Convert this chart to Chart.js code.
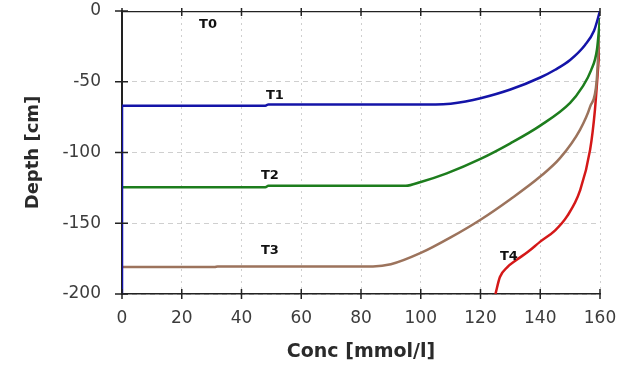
<!DOCTYPE html>
<html>
<head>
<meta charset="utf-8">
<script src="https://cdn.jsdelivr.net/npm/chart.js@4.4.1/dist/chart.umd.min.js"></script>
<style>
  html, body { margin: 0; padding: 0; background: #fff; }
  #wrap { width: 629px; height: 365px; overflow: hidden; }
</style>
</head>
<body>
<div id="wrap"><canvas id="chart" width="629" height="365"></canvas></div>
<script>
'use strict';

// ── data ─────────────────────────────────────
const xTicks = [0, 20, 40, 60, 80, 100, 120, 140, 160];
const yTicks = [0, -50, -100, -150, -200];

const t0Conc  = [0, 160];
const t0Depth = [0, 0];

const t1Conc  = [0, 0, 48, 49, 105, 110, 115, 120, 130, 140, 145, 150, 155, 158, 160];
const t1Depth = [-200, -67, -67, -66, -66, -65.5, -64, -61.7, -55.5, -47, -41.5, -34.6, -24, -14, 0];

const t2Conc  = [0, 48, 49, 95, 100, 108.7, 120, 130, 140, 150, 154, 157, 159, 160];
const t2Depth = [-124.5, -124.5, -123.5, -123.5, -120.8, -114.7, -104.5, -93.5, -81, -65, -54, -42, -27, -5];

const t3Conc  = [0, 31, 32, 84, 90, 100, 110, 120, 130, 140, 146.6, 153.3, 156.7, 158.9, 160];
const t3Depth = [-181, -181, -180.5, -180.5, -179, -171, -160, -147.5, -133, -117, -104, -84, -67.6, -49, -5];

const t4Conc  = [125, 126.5, 129, 132, 136, 140, 145, 149, 153.3, 156.7, 158.3, 159.4, 160];
const t4Depth = [-200, -188, -181, -176, -170, -163, -155, -145, -127, -98, -70, -39, -20];

const curveNames = ['T0', 'T1', 'T2', 'T3', 'T4'];
const labelConc  = [28.8, 51.2, 49.5, 49.5, 129.5];
const labelDepth = [-9.5, -60, -116.5, -169.5, -173.5];

const FONT = 'DejaVu Sans';
const pts = (xs, ys) => xs.map((v, i) => ({ x: v, y: ys[i] }));

// ── tick marks across the axes + curve labels ─
const overlay = {
  id: 'overlay',
  afterDatasetsDraw(chart) {
    const { ctx, chartArea: a, scales: { x, y } } = chart;
    ctx.save();
    ctx.strokeStyle = '#222';
    ctx.lineWidth = 1.5;
    ctx.beginPath();
    x.ticks.forEach((t) => {
      const px = x.getPixelForValue(t.value);
      ctx.moveTo(px, a.bottom - 5); ctx.lineTo(px, a.bottom + 5);
      ctx.moveTo(px, a.top - 3);    ctx.lineTo(px, a.top + 5);
    });
    y.ticks.forEach((t) => {
      const py = y.getPixelForValue(t.value);
      ctx.moveTo(a.left - 7, py); ctx.lineTo(a.left + 6, py);
    });
    ctx.stroke();

    ctx.fillStyle = '#111';
    ctx.font = `bold 13px "${FONT}"`;
    ctx.textAlign = 'center';
    ctx.textBaseline = 'middle';
    curveNames.forEach((n, i) => {
      ctx.fillText(n, x.getPixelForValue(labelConc[i]), y.getPixelForValue(labelDepth[i]));
    });
    ctx.restore();
  },
};

const line = (data, color, width, order) => ({
  data,
  borderColor: color,
  borderWidth: width,
  pointRadius: 0,
  fill: false,
  cubicInterpolationMode: 'monotone',
  order,
});

new Chart(document.getElementById('chart').getContext('2d'), {
  type: 'line',
  data: {
    datasets: [
      line(pts(t1Conc, t1Depth), '#1414a8', 2.5, 0),
      line(pts(t0Conc, t0Depth), '#222222', 2.5, 1),
      line(pts(t2Conc, t2Depth), '#1d7d1d', 2.5, 2),
      line(pts(t3Conc, t3Depth), '#9c735c', 2.5, 3),
      line(pts(t4Conc, t4Depth), '#d41818', 2.5, 4),
    ],
  },
  options: {
    responsive: false,
    animation: false,
    layout: { padding: { top: 11, right: 29, left: 0, bottom: 0 } },
    plugins: { legend: { display: false }, tooltip: { enabled: false } },
    scales: {
      x: {
        type: 'linear',
        min: 0,
        max: 160,
        afterBuildTicks: (s) => { s.ticks = xTicks.map((v) => ({ value: v })); },
        afterFit: (s) => { s.height = 71; s.paddingLeft = 0; s.paddingRight = 0; },
        grid: { color: '#cfcfcf', lineWidth: 1, drawTicks: false },
        border: { color: '#222', width: 1.5, dash: [2, 4] },
        ticks: { padding: 14, color: '#3c3c3c', font: { family: FONT, size: 17 } },
        title: {
          display: true,
          text: 'Conc [mmol/l]',
          color: '#2a2a2a',
          font: { family: FONT, size: 19, weight: 'bold' },
          padding: { top: 0, bottom: 2 },
        },
      },
      y: {
        type: 'linear',
        min: -200,
        max: 0,
        afterBuildTicks: (s) => { s.ticks = yTicks.map((v) => ({ value: v })); },
        afterFit: (s) => { s.width = 122; s.paddingTop = 0; s.paddingBottom = 0; },
        grid: { color: '#cfcfcf', lineWidth: 1, drawTicks: false },
        border: { color: '#222', width: 2, dash: [5, 4] },
        ticks: { padding: 21, color: '#3c3c3c', font: { family: FONT, size: 17 } },
        title: {
          display: true,
          text: 'Depth [cm]',
          color: '#2a2a2a',
          font: { family: FONT, size: 18, weight: 'bold' },
          padding: { top: 23, bottom: 0 },
        },
      },
    },
  },
  plugins: [overlay],
});
</script>
</body>
</html>
